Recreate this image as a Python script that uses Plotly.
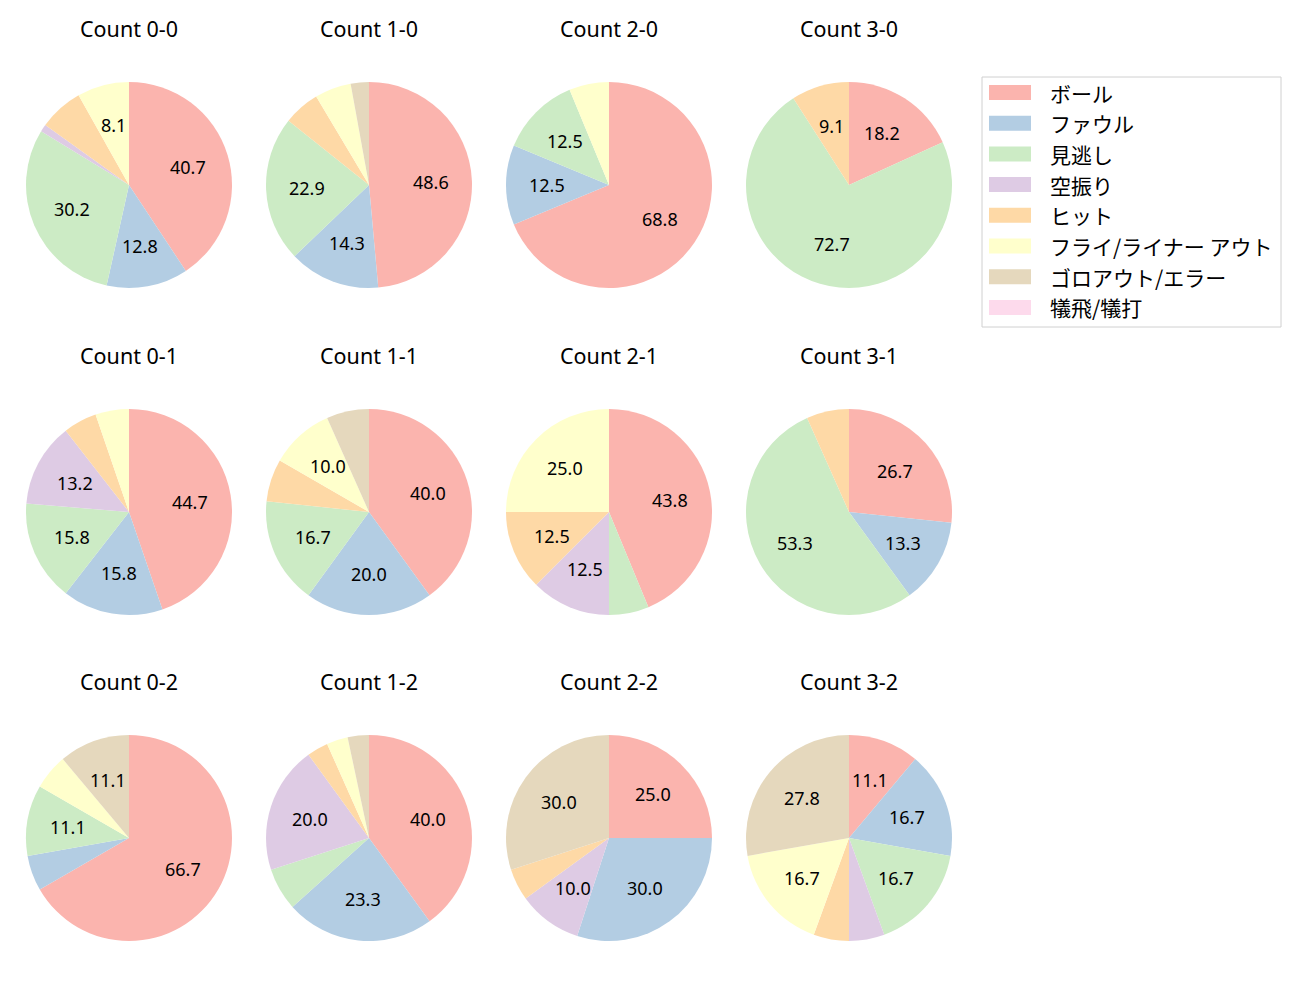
import math
import plotly.graph_objects as go

categories = ["ボール", "ファウル", "見逃し", "空振り", "ヒット",
              "フライ/ライナー アウト", "ゴロアウト/エラー", "犠飛/犠打"]
colors = ["#fbb4ae", "#b3cde3", "#ccebc5", "#decbe4", "#fed9a6",
          "#ffffcc", "#e5d8bd", "#fddaec"]

titles = ["Count 0-0", "Count 1-0", "Count 2-0", "Count 3-0",
          "Count 0-1", "Count 1-1", "Count 2-1", "Count 3-1",
          "Count 0-2", "Count 1-2", "Count 2-2", "Count 3-2"]

# pitch outcome counts per ball-strike count, in category order
count_0_0 = [35, 11, 26, 1, 6, 7, 0, 0]
count_1_0 = [17, 5, 8, 0, 2, 2, 1, 0]
count_2_0 = [11, 2, 2, 0, 0, 1, 0, 0]
count_3_0 = [2, 0, 8, 0, 1, 0, 0, 0]
count_0_1 = [17, 6, 6, 5, 2, 2, 0, 0]
count_1_1 = [12, 6, 5, 0, 2, 3, 2, 0]
count_2_1 = [7, 0, 1, 2, 2, 4, 0, 0]
count_3_1 = [4, 2, 8, 0, 1, 0, 0, 0]
count_0_2 = [12, 1, 2, 0, 0, 1, 2, 0]
count_1_2 = [12, 7, 2, 6, 1, 1, 1, 0]
count_2_2 = [5, 6, 0, 2, 1, 0, 6, 0]
count_3_2 = [2, 3, 3, 1, 1, 3, 5, 0]

all_counts = [count_0_0, count_1_0, count_2_0, count_3_0,
              count_0_1, count_1_1, count_2_1, count_3_1,
              count_0_2, count_1_2, count_2_2, count_3_2]

W, H = 1300, 1000
LATIN = "Noto Sans, Noto Sans CJK JP"
CJK = "Noto Sans CJK JP"
col_cx = [129, 369, 609, 849]
row_cy = [185, 512, 838]
R = 103
title_offset = 157
label_threshold = 8.0

fig = go.Figure()
annotations = []

for i, vals in enumerate(all_counts):
    r, c = divmod(i, 4)
    cx, cy = col_cx[c], row_cy[r]
    fig.add_trace(go.Pie(
        labels=categories, values=vals, sort=False, direction="clockwise",
        rotation=0, marker=dict(colors=colors, line=dict(width=0)),
        textinfo="none", hoverinfo="label+percent", showlegend=False,
        domain=dict(x=[(cx - R) / W, (cx + R) / W],
                    y=[1 - (cy + R) / H, 1 - (cy - R) / H]),
    ))
    total = sum(vals)
    cum = 0
    for v in vals:
        if v == 0:
            continue
        pct = 100 * v / total
        mid = (cum + v / 2) / total * 2 * math.pi
        cum += v
        if pct < label_threshold:
            continue
        px = cx + 0.6 * R * math.sin(mid)
        py = cy - 0.6 * R * math.cos(mid)
        annotations.append(dict(
            x=px / W, y=1 - py / H, xref="paper", yref="paper",
            text=f"{pct:.1f}", showarrow=False,
            font=dict(family=LATIN, size=18, color="#000000"),
            xanchor="center", yanchor="middle"))
    annotations.append(dict(
        x=cx / W, y=1 - (cy - title_offset) / H, xref="paper", yref="paper",
        text=titles[i], showarrow=False,
        font=dict(family=LATIN, size=21.5, color="#000000"),
        xanchor="center", yanchor="middle"))

# manual legend
shapes = []
lx0, ly0, lx1, ly1 = 982, 77, 1281, 327
shapes.append(dict(type="rect", xref="paper", yref="paper",
                   x0=lx0 / W, x1=lx1 / W, y0=1 - ly1 / H, y1=1 - ly0 / H,
                   line=dict(color="#d0d0d0", width=1), fillcolor="rgba(255,255,255,0.8)"))
for k, (lab, colr) in enumerate(zip(categories, colors)):
    yc = 92.5 + k * 30.7
    shapes.append(dict(type="rect", xref="paper", yref="paper",
                       x0=989 / W, x1=1031 / W,
                       y0=1 - (yc + 7.5) / H, y1=1 - (yc - 7.5) / H,
                       line=dict(width=0), fillcolor=colr))
    annotations.append(dict(
        x=1048 / W, y=1 - yc / H, xref="paper", yref="paper",
        text=lab, showarrow=False, xanchor="left", yanchor="middle",
        font=dict(family=CJK, size=21, color="#000000")))

fig.update_layout(
    width=W, height=H, margin=dict(l=0, r=0, t=0, b=0),
    paper_bgcolor="white", plot_bgcolor="white",
    annotations=annotations, shapes=shapes,
    font=dict(family=LATIN),
)

fig.write_html("out.html")
